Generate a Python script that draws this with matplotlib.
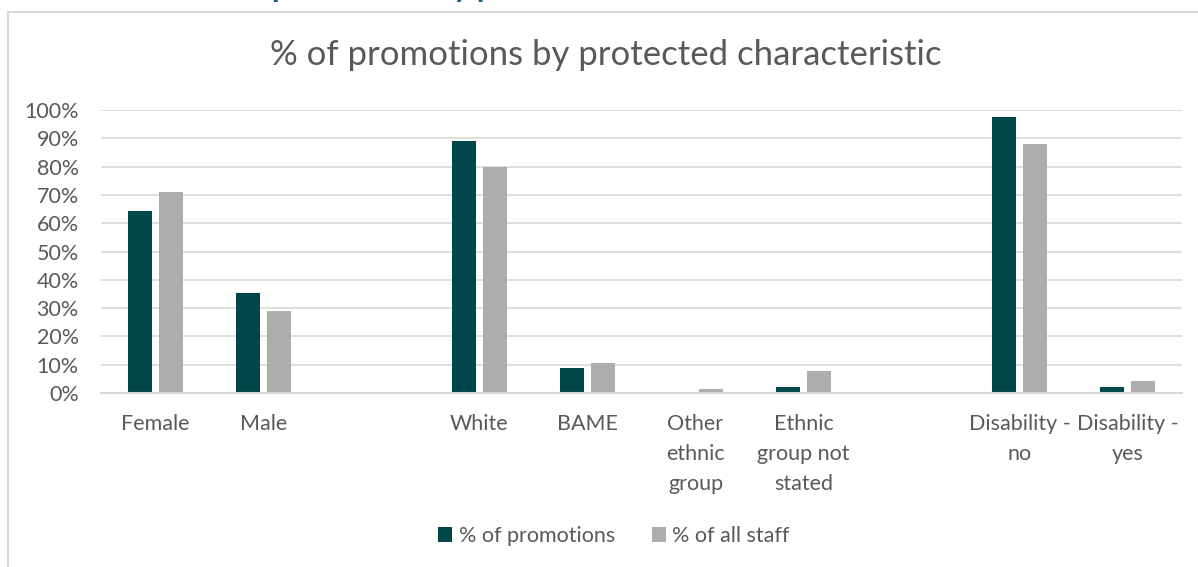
import numpy as np
import matplotlib.pyplot as plt
from matplotlib.patches import Rectangle

# Category groups (one blank slot is left between groups)
groups = [
    ["Female", "Male"],
    ["White", "BAME", "Other\nethnic\ngroup", "Ethnic\ngroup not\nstated"],
    ["Disability -\nno", "Disability -\nyes"],
]
pct_promotions = [0.643, 0.355, 0.890, 0.090, 0.0, 0.022, 0.976, 0.022]
pct_all_staff = [0.710, 0.290, 0.800, 0.105, 0.015, 0.076, 0.879, 0.043]
series_names = ["% of promotions", "% of all staff"]
title = "% of promotions by protected characteristic"

DARK = "#00474A"
GREY = "#ADADAD"
TEXT = "#595959"
LINE = "#D9D9D9"

plt.rcParams["font.family"] = ["Lato", "DejaVu Sans"]

# slot positions for each category
labels, pos = [], []
slot = 0
for g in groups:
    for name in g:
        labels.append(name)
        pos.append(slot)
        slot += 1
    slot += 1
n_slots = slot - 1
pos = np.array(pos)

W, H = 1198, 567
fig = plt.figure(figsize=(W / 100, H / 100), dpi=100)
ax = fig.add_axes([101 / W, 1 - 393 / H, (1182 - 101) / W, (393 - 110) / H])

bw = 0.222
gap = 0.065
off = (bw + gap) / 2
ax.bar(pos - off, pct_promotions, width=bw, color=DARK, label=series_names[0], zorder=3)
ax.bar(pos + off, pct_all_staff, width=bw, color=GREY, label=series_names[1], zorder=3)

ax.set_xlim(-0.5, n_slots - 0.5)
ax.set_ylim(0, 1)
ax.set_yticks(np.arange(0, 1.01, 0.1))
ax.set_yticklabels([f"{int(round(v * 100))}%" for v in np.arange(0, 1.01, 0.1)])
ax.set_xticks(pos)
ax.set_xticklabels(labels, multialignment="center", linespacing=1.62)
ax.tick_params(axis="y", length=0, labelsize=15.5, colors=TEXT, pad=16)
ax.tick_params(axis="x", length=0, labelsize=15.5, colors=TEXT, pad=15)

ax.grid(axis="y", color=LINE, linewidth=1.2, zorder=0)
for s in ["top", "right", "left"]:
    ax.spines[s].set_visible(False)
ax.spines["bottom"].set_color(LINE)
ax.spines["bottom"].set_linewidth(1.5)
ax.spines["bottom"].set_zorder(4)

fig.text(606 / W, 1 - 55 / H, title, ha="center", va="center", fontsize=25, color=TEXT)

leg = fig.legend(loc="center", bbox_to_anchor=(614 / W, 1 - 536 / H), ncol=2, frameon=False,
                 fontsize=15.5, handlelength=0.65, handleheight=0.65, handletextpad=0.3,
                 columnspacing=1.7, labelcolor=TEXT)

# chart border, running off the right and bottom edges
fig.patches.append(Rectangle((7.5 / W, -0.2), 1.5, 1.2 - 11.5 / H, transform=fig.transFigure,
                             fill=False, edgecolor=LINE, linewidth=1.5))

# page heading above the chart, mostly cropped off
fig.text(272 / W, 1 + 3 / H, "promotions by protected characteristic", ha="left",
         va="baseline", fontsize=22, fontweight="bold", color="#0F5E7D")

fig.savefig("out.png", dpi=100)
